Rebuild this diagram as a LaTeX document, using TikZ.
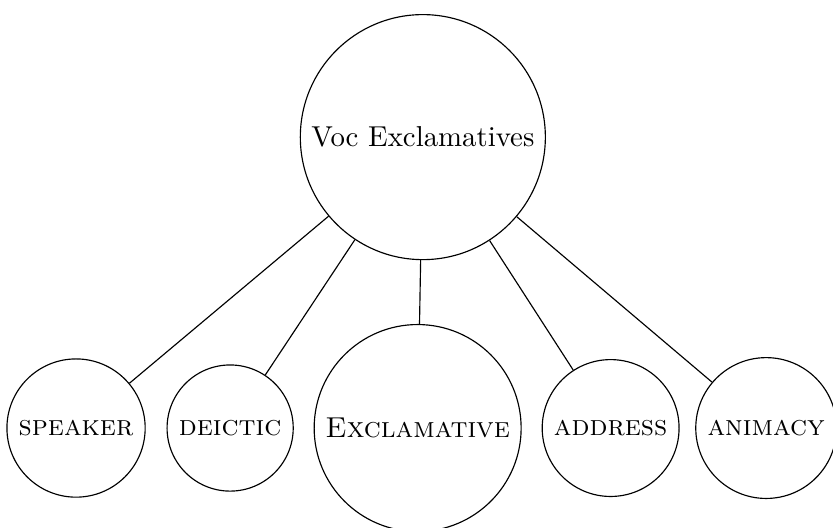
\documentclass[tikz,border=0pt]{standalone}
\begin{document}
\begin{tikzpicture}[x=1pt,y=1pt,
  cnode/.style={draw,circle,line width=0.4pt},
  link/.style={draw,line width=0.4pt}]
\useasboundingbox (0,0) rectangle (289.2,-183);
\node[cnode] (root) at (146.8,-47.6) {Voc Exclamatives};
\node[cnode] (spk) at (26.4,-148.6) {\textsc{speaker}};
\node[cnode] (dei) at (79.9,-148.6) {\textsc{deictic}};
\node[cnode] (exc) at (145.0,-148.6) {\textsc{Exclamative}};
\node[cnode] (adr) at (212.0,-148.6) {\textsc{address}};
\node[cnode] (ani) at (266.0,-148.6) {\textsc{animacy}};
\foreach \c in {spk,dei,exc,adr,ani}
  \draw[link] (root) -- (\c);
\end{tikzpicture}
\end{document}
